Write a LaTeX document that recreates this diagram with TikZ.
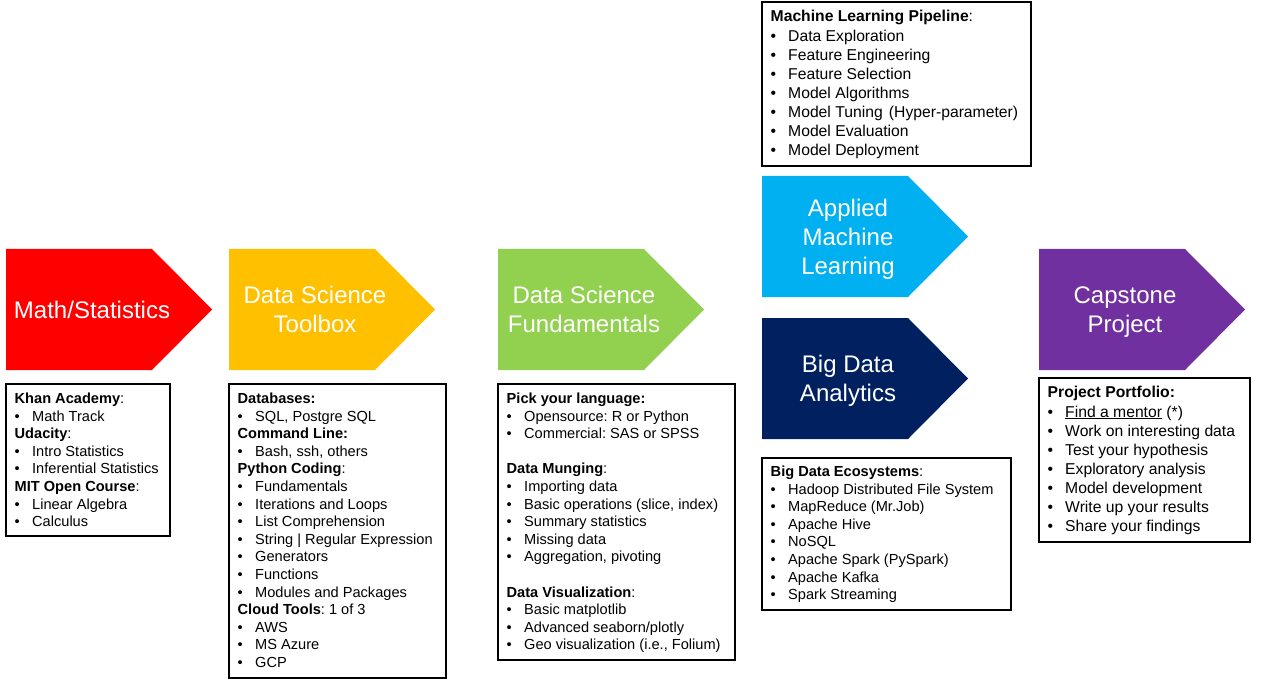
\documentclass[tikz,border=0pt]{standalone}
\usepackage{fontspec}
\setmainfont{Liberation Sans}
\usetikzlibrary{calc}
\frenchspacing
\definecolor{cred}{HTML}{FF0000}
\definecolor{corange}{HTML}{FFC000}
\definecolor{cgreen}{HTML}{92D050}
\definecolor{cblue}{HTML}{00B0F0}
\definecolor{cnavy}{HTML}{002060}
\definecolor{cpurple}{HTML}{7030A0}
\newcommand{\bi}{\makebox[17.5pt][l]{\textbullet}}
\newcommand{\pent}[5]{%
  \fill[#4] (#2,#3) -- ++(146,0) -- ++(60,60.5) -- ++(-60,60.5) -- ++(-146,0) -- cycle;
  \node[title] (#1) at (#2+86,#3+60.5) {#5};}
\tikzset{
  title/.style={text=white, align=center, inner sep=0pt, text depth=0pt, font=\fontsize{24}{29}\selectfont},
  infobox/.style={draw=black, line width=1.2pt, fill=white},
  txt/.style={anchor=north west, align=left, inner sep=0pt, font=\fontsize{14.6}{17.6}\selectfont},
  txtbig/.style={anchor=north west, align=left, inner sep=0pt, font=\fontsize{15.7}{19.1}\selectfont}
}
\begin{document}
\begin{tikzpicture}[x=1pt,y=-1pt]
\useasboundingbox (0,0) rectangle (1261,679);
% arrows
\pent{math}{6}{249}{cred}{Math/Statistics}
\pent{tool}{229}{249}{corange}{Data Science\\Toolbox}
\pent{fund}{498}{249}{cgreen}{Data Science\\Fundamentals}
\pent{aml}{762}{176}{cblue}{Applied\\Machine\\Learning}
\pent{bda}{762}{318}{cnavy}{Big Data\\Analytics}
\pent{cap}{1039}{249}{cpurple}{Capstone\\Project}
% boxes
\draw[infobox] (6,384) rectangle (170,536);
\node[txt] (t1) at (14.5,392.8) {\textbf{Khan Academy}:\\
\bi Math Track\\
\textbf{Udacity}:\\
\bi Intro Statistics\\
\bi Inferential Statistics\\
\textbf{MIT Open Course}:\\
\bi Linear Algebra\\
\bi Calculus};
\draw[infobox] (229,384) rectangle (446,678);
\node[txt] (t2) at (237.5,392.8) {\textbf{Databases:}\\
\bi SQL, Postgre SQL\\
\textbf{Command Line:}\\
\bi Bash, ssh, others\\
\textbf{Python Coding}:\\
\bi Fundamentals\\
\bi Iterations and Loops\\
\bi List Comprehension\\
\bi String | Regular Expression\\
\bi Generators\\
\bi Functions\\
\bi Modules and Packages\\
\textbf{Cloud Tools}: 1 of 3\\
\bi AWS\\
\bi MS Azure\\
\bi GCP};
\draw[infobox] (498,384) rectangle (735,660);
\node[txt] (t3) at (506.5,392.8) {\textbf{Pick your language:}\\
\bi Opensource: R or Python\\
\bi Commercial: SAS or SPSS\\
\mbox{}\\
\textbf{Data Munging}:\\
\bi Importing data\\
\bi Basic operations (slice, index)\\
\bi Summary statistics\\
\bi Missing data\\
\bi Aggregation, pivoting\\
\mbox{}\\
\textbf{Data Visualization}:\\
\bi Basic matplotlib\\
\bi Advanced seaborn/plotly\\
\bi Geo visualization (i.e., Folium)};
\draw[infobox] (762,2) rectangle (1031,166);
\node[txtbig] (t4) at (770.5,10.4) {\textbf{Machine Learning Pipeline}:\\
\bi Data Exploration\\
\bi Feature Engineering\\
\bi Feature Selection\\
\bi Model Algorithms\\
\bi Model Tuning\hspace{0.12em} (Hyper-parameter)\\
\bi Model Evaluation\\
\bi Model Deployment};
\draw[infobox] (762,458) rectangle (1011,610);
\node[txt] (t5) at (770.5,465.8) {\textbf{Big Data Ecosystems}:\\
\bi Hadoop Distributed File System\\
\bi MapReduce (Mr.Job)\\
\bi Apache Hive\\
\bi NoSQL\\
\bi Apache Spark (PySpark)\\
\bi Apache Kafka\\
\bi Spark Streaming};
\draw[infobox] (1039,378) rectangle (1250,542);
\node[txtbig] (t6) at (1047.5,386.4) {\textbf{Project Portfolio:}\\
\bi \underline{Find a mentor} (*)\\
\bi Work on interesting data\\
\bi Test your hypothesis\\
\bi Exploratory analysis\\
\bi Model development\\
\bi Write up your results\\
\bi Share your findings};
\end{tikzpicture}
\end{document}
